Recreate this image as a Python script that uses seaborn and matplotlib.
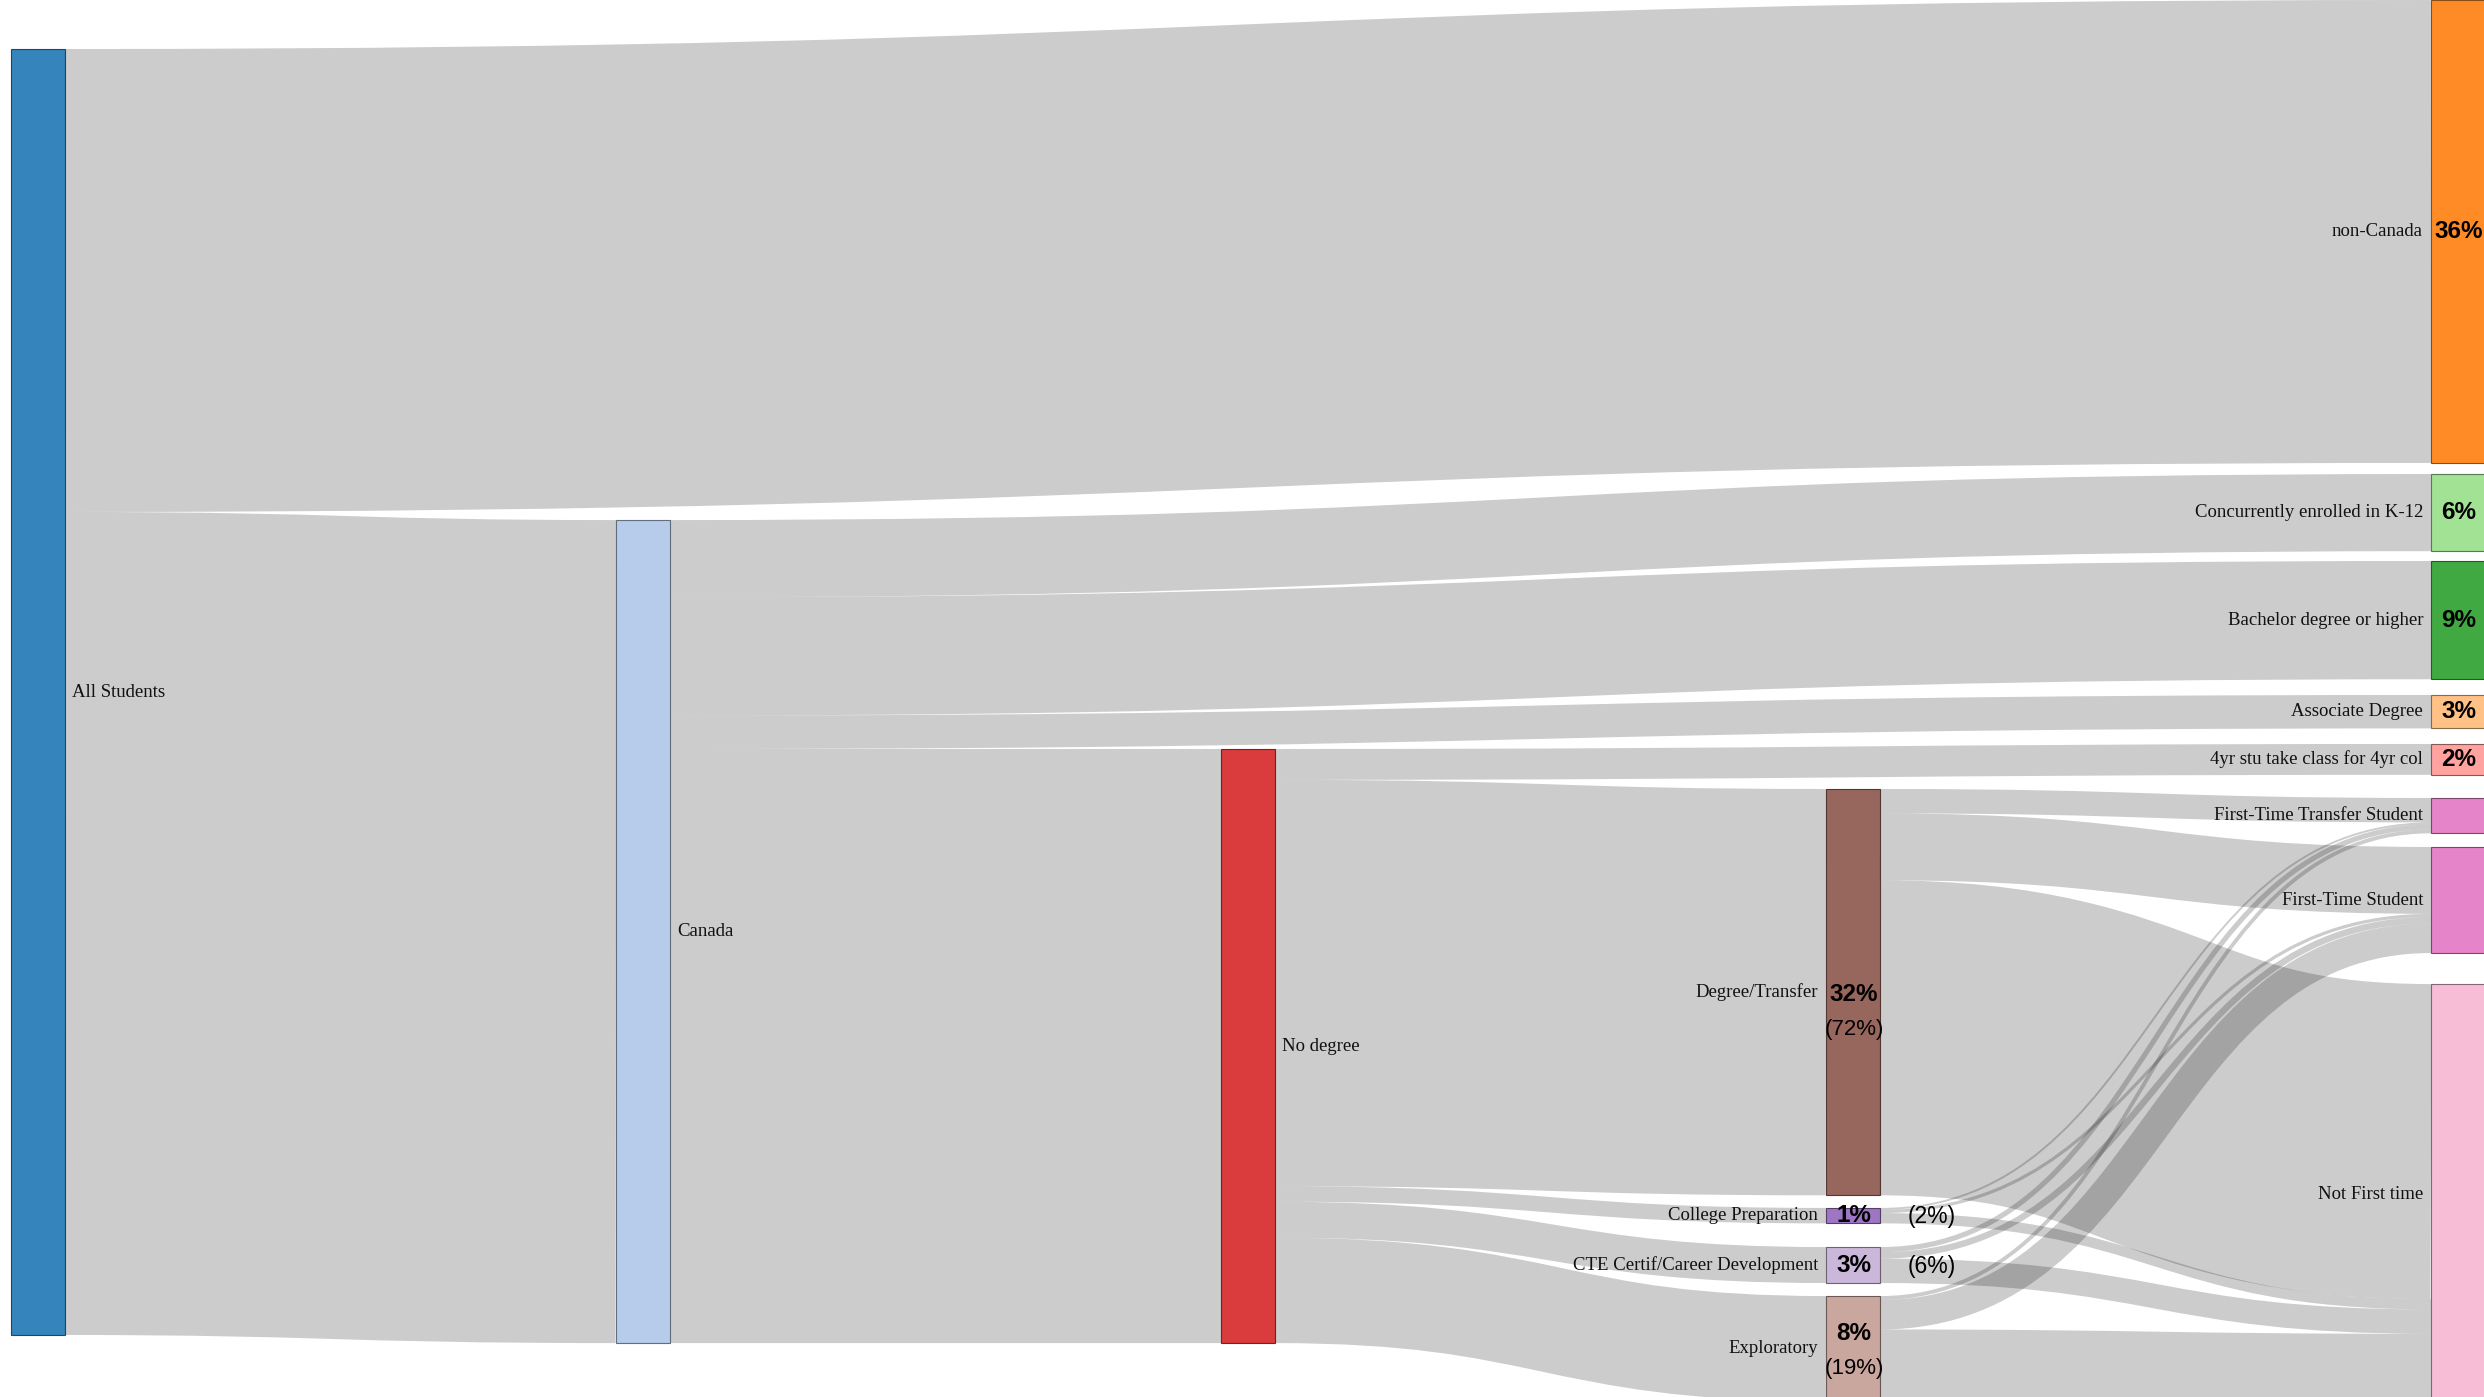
import matplotlib
matplotlib.use("Agg")
import matplotlib.pyplot as plt
from matplotlib.path import Path
from matplotlib.patches import PathPatch
import seaborn as sns

# ------------------------------------------------------------------ data
node_names = ["All Students", "Canada", "non-Canada", "Concurrently enrolled in K-12",
              "Bachelor degree or higher", "Associate Degree", "No degree",
              "4yr stu take class for 4yr col", "Degree/Transfer", "College Preparation",
              "CTE Certif/Career Development", "Exploratory",
              "First-Time Transfer Student", "First-Time Student", "Not First time"]

link_source = ["All Students", "All Students",
               "Canada", "Canada", "Canada", "Canada",
               "No degree", "No degree", "No degree", "No degree", "No degree",
               "Degree/Transfer", "Degree/Transfer", "Degree/Transfer",
               "College Preparation", "College Preparation", "College Preparation",
               "CTE Certif/Career Development", "CTE Certif/Career Development",
               "CTE Certif/Career Development",
               "Exploratory", "Exploratory", "Exploratory"]
link_target = ["non-Canada", "Canada",
               "Concurrently enrolled in K-12", "Bachelor degree or higher",
               "Associate Degree", "No degree",
               "4yr stu take class for 4yr col", "Degree/Transfer", "College Preparation",
               "CTE Certif/Career Development", "Exploratory",
               "First-Time Transfer Student", "First-Time Student", "Not First time",
               "First-Time Transfer Student", "First-Time Student", "Not First time",
               "First-Time Transfer Student", "First-Time Student", "Not First time",
               "First-Time Transfer Student", "First-Time Student", "Not First time"]
link_value = [36.0, 64.0,
              6.0, 9.2, 2.6, 46.2,
              2.4, 31.6, 1.2, 2.8, 8.2,
              1.9, 5.2, 24.5,
              0.15, 0.25, 0.8,
              0.4, 0.5, 1.9,
              0.3, 2.3, 5.6]

main_pct_nodes = ["non-Canada", "Concurrently enrolled in K-12", "Bachelor degree or higher",
                  "Associate Degree", "4yr stu take class for 4yr col", "Degree/Transfer",
                  "College Preparation", "CTE Certif/Career Development", "Exploratory"]
main_pct_text = ["36%", "6%", "9%", "3%", "2%", "32%", "1%", "3%", "8%"]
sub_pct_nodes = ["Degree/Transfer", "College Preparation", "CTE Certif/Career Development",
                 "Exploratory"]
sub_pct_text = ["(72%)", "(2%)", "(6%)", "(19%)"]

# ------------------------------------------------------------------ layout / style
W, H, DPI = 2484, 1397, 100
px_per_unit = 12.86
top_margin_px = 49
col_x0 = [11, 616, 1221, 1826, 2431]
node_w = 54
columns = [
    ["All Students"],
    ["Canada"],
    ["No degree"],
    ["Degree/Transfer", "College Preparation", "CTE Certif/Career Development", "Exploratory"],
    ["non-Canada", "Concurrently enrolled in K-12", "Bachelor degree or higher",
     "Associate Degree", "4yr stu take class for 4yr col", "First-Time Transfer Student",
     "First-Time Student", "Not First time"],
]
# first entry: top of first node; following: gap above each node (value units)
column_gaps = [
    [0.0],
    [36.63],
    [54.43],
    [57.54, 0.98, 1.84, 1.01],
    [-3.81, 0.86, 0.76, 1.22, 1.21, 1.80, 1.06, 2.41],
]
# vertical shift (value units) of the in-node percent labels
pct_label_shift = {"Degree/Transfer": 0.2, "Exploratory": -1.2}
sub_label_gap = 2.7

palette = sns.color_palette("tab20")
node_color_idx = {"All Students": 0, "Canada": 1, "non-Canada": 2, "Associate Degree": 3,
                  "Bachelor degree or higher": 4, "Concurrently enrolled in K-12": 5,
                  "No degree": 6, "4yr stu take class for 4yr col": 7,
                  "College Preparation": 8, "CTE Certif/Career Development": 9,
                  "Degree/Transfer": 10, "Exploratory": 11,
                  "First-Time Transfer Student": 12, "First-Time Student": 12,
                  "Not First time": 13}

sns.set_theme(style="white")
plt.rcParams["font.family"] = ["Liberation Serif", "DejaVu Serif"]

# ------------------------------------------------------------------ compute layout
inflow = {n: 0.0 for n in node_names}
outflow = {n: 0.0 for n in node_names}
for s, t, v in zip(link_source, link_target, link_value):
    outflow[s] += v
    inflow[t] += v
node_val = {n: max(inflow[n], outflow[n]) for n in node_names}

node_col, node_top = {}, {}
for ci, (names, gaps) in enumerate(zip(columns, column_gaps)):
    y = None
    for j, (n, g) in enumerate(zip(names, gaps)):
        y = g if j == 0 else y + g
        node_col[n] = ci
        node_top[n] = y
        y += node_val[n]

links = list(zip(link_source, link_target, link_value))
src_off, tgt_off = {}, {}
for n in node_names:
    outs = sorted([l for l in links if l[0] == n], key=lambda l: node_top[l[1]])
    y = node_top[n]
    for l in outs:
        src_off[l] = y
        y += l[2]
    ins = sorted([l for l in links if l[1] == n], key=lambda l: node_top[l[0]])
    y = node_top[n]
    for l in ins:
        tgt_off[l] = y
        y += l[2]

# ------------------------------------------------------------------ draw
fig = plt.figure(figsize=(W / DPI, H / DPI), dpi=DPI)
ax = fig.add_axes([0, 0, 1, 1])
y_top = -top_margin_px / px_per_unit
y_bot = (H - top_margin_px) / px_per_unit
ax.set_xlim(0, W)
ax.set_ylim(y_bot, y_top)
ax.axis("off")

lw_per_unit = px_per_unit * 72.0 / DPI
for l in links:
    s, t, v = l
    x0 = col_x0[node_col[s]] + node_w
    x1 = col_x0[node_col[t]]
    ys = src_off[l] + v / 2
    yt = tgt_off[l] + v / 2
    xm = (x0 + x1) / 2
    path = Path([(x0, ys), (xm, ys), (xm, yt), (x1, yt)],
                [Path.MOVETO, Path.CURVE4, Path.CURVE4, Path.CURVE4])
    ax.add_patch(PathPatch(path, facecolor="none", edgecolor=(0, 0, 0, 0.2),
                           lw=v * lw_per_unit, capstyle="butt", zorder=1))

for n in node_names:
    c = palette[node_color_idx[n]]
    dark = tuple(ch * 0.49 for ch in c)
    ax.bar(col_x0[node_col[n]], node_val[n], bottom=node_top[n], width=node_w,
           align="edge", color=c, alpha=0.9, edgecolor=dark, linewidth=0.8, zorder=3)

# node name labels
for n in node_names:
    ci = node_col[n]
    yc = node_top[n] + node_val[n] / 2
    if ci < 3:
        ax.text(col_x0[ci] + node_w + 7, yc, n, ha="left", va="center",
                fontsize=13.5, color="#111111", zorder=5)
    else:
        ax.text(col_x0[ci] - 8, yc, n, ha="right", va="center",
                fontsize=13.5, color="#111111", zorder=5)

sans = ["Liberation Sans", "DejaVu Sans"]
for n, txt in zip(main_pct_nodes, main_pct_text):
    ci = node_col[n]
    yc = node_top[n] + node_val[n] / 2 + pct_label_shift.get(n, 0.0)
    ax.text(col_x0[ci] + node_w / 2 + 1, yc, txt, ha="center", va="center",
            fontsize=17.5, fontweight="bold", family=sans, color="black", zorder=6)

for n, txt in zip(sub_pct_nodes, sub_pct_text):
    ci = node_col[n]
    yc = node_top[n] + node_val[n] / 2 + pct_label_shift.get(n, 0.0)
    if node_val[n] > 5:
        ax.text(col_x0[ci] + node_w / 2 + 1, yc + sub_label_gap, txt, ha="center",
                va="center", fontsize=16, family=sans, color="black", zorder=6)
    else:
        ax.text(col_x0[ci] + node_w + 52, yc + 0.1, txt, ha="center", va="center",
                fontsize=16.5, family=sans, color="black", zorder=6)

fig.savefig("out.png", dpi=DPI, facecolor="white")
